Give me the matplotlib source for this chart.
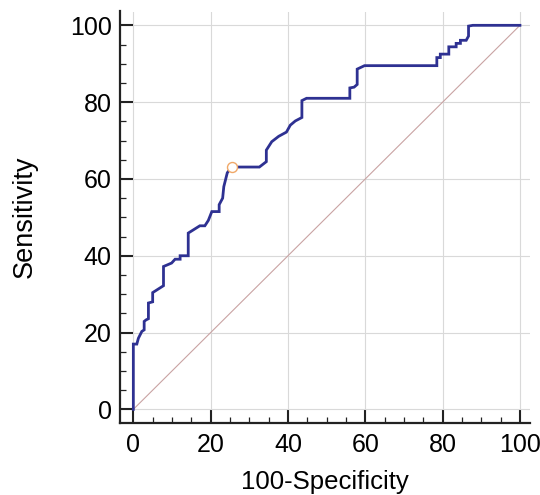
import matplotlib
matplotlib.use("Agg")
import matplotlib.pyplot as plt
from matplotlib.ticker import MultipleLocator

# ROC curve points (100-Specificity, Sensitivity)
fpr = [0, 0, 0.9, 1.3, 2.2, 2.8, 2.8, 3.3, 3.9, 3.9, 5.0, 5.0, 7.8, 7.8, 9.9, 10.8,
       12.1, 12.1, 14.2, 14.2, 17.2, 18.5, 19.4, 20.3, 22.2, 22.2, 23.1, 23.4, 24.3,
       25.4, 32.6, 34.4, 34.4, 35.8, 37.6, 39.6, 40.6, 41.9, 43.6, 43.6, 44.8, 56.0,
       56.0, 57.1, 57.9, 57.9, 59.8, 78.5, 78.5, 79.4, 79.4, 81.6, 81.6, 83.5, 83.5,
       84.6, 84.6, 86.1, 86.7, 86.7, 87.8, 100]
tpr = [0, 17.0, 17.0, 18.5, 20.3, 20.7, 22.9, 23.3, 23.6, 27.7, 28.0, 30.4, 32.2, 37.2,
       38.1, 39.1, 39.1, 40.0, 40.0, 45.9, 47.8, 47.8, 49.2, 51.5, 51.5, 53.3, 55.0,
       58.0, 61.6, 63.1, 63.1, 64.5, 67.5, 69.7, 71.1, 72.2, 74.0, 75.1, 76.0, 80.4,
       81.0, 81.0, 83.7, 83.9, 84.6, 88.6, 89.5, 89.5, 91.6, 91.6, 92.5, 92.5, 94.4,
       94.4, 95.3, 95.3, 96.1, 96.1, 97.2, 99.8, 100, 100]
criterion_point = (25.4, 63.1)
diag = [0, 100]
ticks = [0, 20, 40, 60, 80, 100]
xlabel = "100-Specificity"
ylabel = "Sensitivity"

plt.rcParams['font.family'] = ['Liberation Sans', 'DejaVu Sans']

fig = plt.figure(figsize=(5.4, 4.95), dpi=100)
ax = fig.add_axes([120 / 540, 1 - 423 / 495, (530 - 120) / 540, (423 - 11.5) / 495])

ax.set_xlim(-3.45, 102.6)
ax.set_ylim(-3.55, 103.6)

ax.grid(True, which='major', color='#d9d9d9', linewidth=0.8)
ax.set_axisbelow(True)

ax.plot(diag, diag, color='#c9a3a3', linewidth=0.8, zorder=2)
ax.plot(fpr, tpr, color='#2e3192', linewidth=2.0, zorder=3, solid_joinstyle='miter')
ax.plot([criterion_point[0]], [criterion_point[1]], marker='o', markersize=7.2,
        markerfacecolor='white', markeredgecolor='#f0a868', markeredgewidth=1.0,
        linestyle='none', zorder=4)

for s in ['top', 'right']:
    ax.spines[s].set_visible(False)
for s in ['left', 'bottom']:
    ax.spines[s].set_linewidth(1.6)
    ax.spines[s].set_color('#222222')

ax.set_xticks(ticks)
ax.set_yticks(ticks)
ax.xaxis.set_minor_locator(MultipleLocator(5))
ax.yaxis.set_minor_locator(MultipleLocator(5))
ax.tick_params(which='major', direction='in', length=9.5, width=1.5, color='#222222',
               labelsize=18, pad=7.5)
ax.tick_params(which='minor', direction='in', length=4.5, width=0.9, color='#222222')
ax.tick_params(axis='y', which='major', pad=6)

ax.set_xlabel(xlabel, fontsize=18.5, labelpad=9)
ax.set_ylabel(ylabel, fontsize=19.5, labelpad=23)

fig.savefig('out.png', dpi=100)
